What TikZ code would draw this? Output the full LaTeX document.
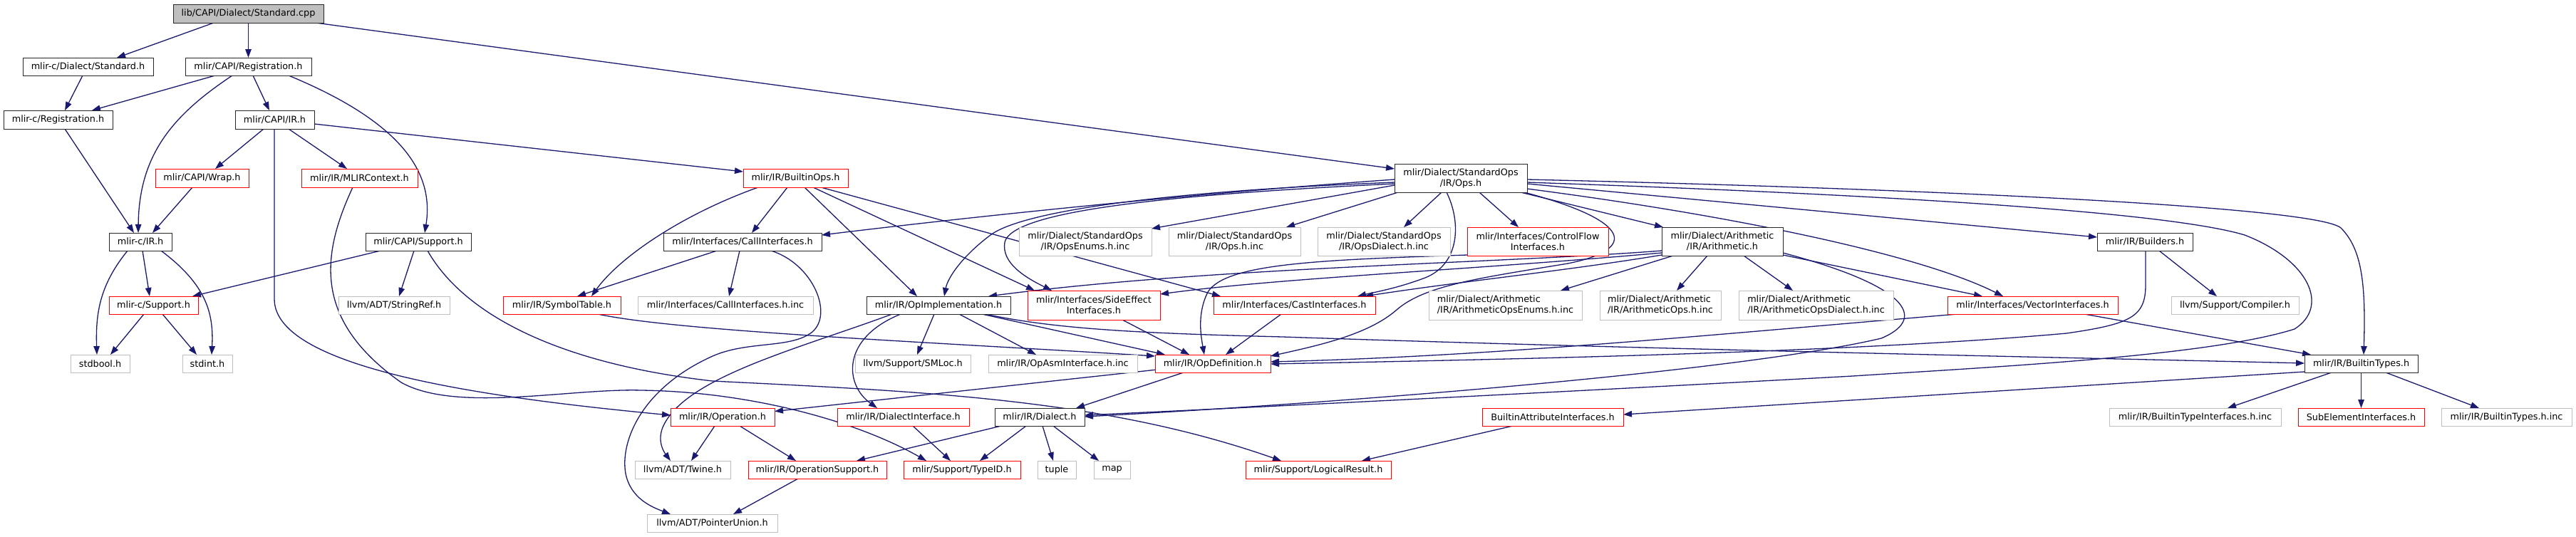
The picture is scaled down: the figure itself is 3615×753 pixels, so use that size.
\documentclass[tikz,border=0pt]{standalone}
\usepackage{fontspec}
\setmainfont{DejaVu Sans}
\usetikzlibrary{arrows.meta,calc}
\definecolor{edgec}{RGB}{25,25,112}
\definecolor{grayb}{RGB}{191,191,191}
\definecolor{redb}{RGB}{255,0,0}
\definecolor{blackb}{RGB}{40,40,40}
\pgfdeclarelayer{bg}
\pgfsetlayers{bg,main}
\tikzset{
 nbase/.style={draw, line width=1pt, inner sep=0pt, outer sep=0pt, font=\fontsize{12.8}{15}\selectfont, text=black, fill=white},
 nb/.style={nbase, draw=blackb},
 nr/.style={nbase, draw=redb},
 ng/.style={nbase, draw=grayb},
 rootn/.style={nbase, draw=blackb, fill=grayb},
 lnk/.style={draw=edgec, line width=1.3pt, -{Triangle[length=12pt,width=8.5pt]}},
}
\newcommand\mkbox[7]{\node[#1, minimum width={(#5-#3)*1pt}, minimum height={(#6-#4)*1pt}] (#2) at ({(#3+#5)/2},{(#4+#6)/2}) {#7};}
\begin{document}
\begin{tikzpicture}[x=1pt,y=-1pt]
\useasboundingbox (0,0) rectangle (3615,753);
% nodes
\mkbox{rootn}{root}{243}{6}{454}{32}{lib/CAPI/Dialect/Standard.cpp}
\mkbox{nb}{cstd}{32}{81}{215}{106}{mlir-c/Dialect/Standard.h}
\mkbox{nb}{capireg}{260}{81}{437}{106}{mlir/CAPI/Registration.h}
\mkbox{nb}{creg}{5}{155}{158}{181}{mlir-c/Registration.h}
\mkbox{nb}{capiir}{330}{155}{441}{181}{mlir/CAPI/IR.h}
\mkbox{nr}{wrap}{218}{237}{349}{263}{mlir/CAPI/Wrap.h}
\mkbox{nr}{mlirctx}{423}{237}{586}{263}{mlir/IR/MLIRContext.h}
\mkbox{nr}{builtinops}{1043}{237}{1190}{263}{mlir/IR/BuiltinOps.h}
\mkbox{nb,align=center}{opsh}{1957}{230}{2143}{270}{mlir/Dialect/StandardOps\\/IR/Ops.h}
\mkbox{nb}{cir}{153}{327}{241}{352}{mlir-c/IR.h}
\mkbox{nb}{capisupport}{513}{327}{661}{352}{mlir/CAPI/Support.h}
\mkbox{nb}{callif}{931}{327}{1153}{352}{mlir/Interfaces/CallInterfaces.h}
\mkbox{ng,align=center}{opsenums}{1430}{319}{1616}{359}{mlir/Dialect/StandardOps\\/IR/OpsEnums.h.inc}
\mkbox{ng,align=center}{opsinc}{1640}{319}{1825}{359}{mlir/Dialect/StandardOps\\/IR/Ops.h.inc}
\mkbox{ng,align=center}{opsdialect}{1849}{319}{2035}{359}{mlir/Dialect/StandardOps\\/IR/OpsDialect.h.inc}
\mkbox{nr,align=center}{cfif}{2059}{319}{2257}{359}{mlir/Interfaces/ControlFlow\\Interfaces.h}
\mkbox{nb,align=center}{arith}{2332}{319}{2502}{359}{mlir/Dialect/Arithmetic\\/IR/Arithmetic.h}
\mkbox{nb}{builders}{2943}{327}{3077}{352}{mlir/IR/Builders.h}
\mkbox{nr}{csupport}{153}{416}{278}{441}{mlir-c/Support.h}
\mkbox{ng}{stringref}{475}{416}{631}{441}{llvm/ADT/StringRef.h}
\mkbox{nr}{symtab}{706}{416}{871}{441}{mlir/IR/SymbolTable.h}
\mkbox{ng}{callifinc}{895}{416}{1141}{441}{mlir/Interfaces/CallInterfaces.h.inc}
\mkbox{nb}{opimpl}{1216}{416}{1418}{441}{mlir/IR/OpImplementation.h}
\mkbox{nr,align=center}{sideeff}{1442}{408}{1628}{449}{mlir/Interfaces/SideEffect\\Interfaces.h}
\mkbox{nr}{castif}{1703}{416}{1930}{441}{mlir/Interfaces/CastInterfaces.h}
\mkbox{ng,align=left}{arithenums}{2005}{408}{2220}{449}{mlir/Dialect/Arithmetic\\/IR/ArithmeticOpsEnums.h.inc}
\mkbox{ng,align=left}{arithops}{2245}{408}{2415}{449}{mlir/Dialect/Arithmetic\\/IR/ArithmeticOps.h.inc}
\mkbox{ng,align=left}{arithdialect}{2440}{408}{2657}{449}{mlir/Dialect/Arithmetic\\/IR/ArithmeticOpsDialect.h.inc}
\mkbox{nr}{vectorif}{2733}{416}{2972}{441}{mlir/Interfaces/VectorInterfaces.h}
\mkbox{ng}{compiler}{3047}{416}{3226}{441}{llvm/Support/Compiler.h}
\mkbox{ng}{stdbool}{99}{498}{182}{523}{stdbool.h}
\mkbox{ng}{stdint}{256}{498}{326}{523}{stdint.h}
\mkbox{ng}{smloc}{1200}{498}{1362}{523}{llvm/Support/SMLoc.h}
\mkbox{ng}{opasminc}{1387}{498}{1596}{523}{mlir/IR/OpAsmInterface.h.inc}
\mkbox{nr}{opdef}{1621}{498}{1783}{523}{mlir/IR/OpDefinition.h}
\mkbox{nb}{builtintypes}{3234}{498}{3393}{523}{mlir/IR/BuiltinTypes.h}
\mkbox{nr}{operation}{941}{573}{1087}{598}{mlir/IR/Operation.h}
\mkbox{nr}{dialectif}{1175}{573}{1360}{598}{mlir/IR/DialectInterface.h}
\mkbox{nb}{dialect}{1396}{573}{1522}{598}{mlir/IR/Dialect.h}
\mkbox{nr}{builtinattrif}{2080}{573}{2278}{598}{BuiltinAttributeInterfaces.h}
\mkbox{ng}{builtintypeifinc}{2960}{573}{3201}{598}{mlir/IR/BuiltinTypeInterfaces.h.inc}
\mkbox{nr}{subelem}{3225}{573}{3402}{598}{SubElementInterfaces.h}
\mkbox{ng}{builtintypesinc}{3426}{573}{3609}{598}{mlir/IR/BuiltinTypes.h.inc}
\mkbox{ng}{twine}{891}{647}{1025}{672}{llvm/ADT/Twine.h}
\mkbox{nr}{opsupport}{1050}{647}{1244}{672}{mlir/IR/OperationSupport.h}
\mkbox{nr}{typeid}{1268}{647}{1432}{672}{mlir/Support/TypeID.h}
\mkbox{ng}{tuple}{1456}{647}{1510}{672}{tuple}
\mkbox{ng}{map}{1535}{647}{1586}{672}{map}
\mkbox{nr}{logicalresult}{1748}{647}{1952}{672}{mlir/Support/LogicalResult.h}
\mkbox{ng}{pointerunion}{908}{722}{1091}{747}{llvm/ADT/PointerUnion.h}
% edges
\begin{pgfonlayer}{bg}
\fill[white] (0,0) rectangle (3615,753);
\draw[lnk] ($(root.north west)+(57,26)$) -- ($(cstd.north west)+(132,0)$);
\draw[lnk] (root.south) -- (capireg.north);
\draw[lnk] ($(root.north west)+(200,26)$) -- ($(opsh.north west)+(0,7)$);
\draw[lnk] ($(cstd.north west)+(84,25)$) -- ($(creg.north west)+(86,0)$);
\draw[lnk] ($(capireg.north west)+(42,25)$) -- ($(creg.north west)+(124,0)$);
\draw[lnk] ($(capireg.north west)+(66,25)$) .. controls (245,160) and (195,215) .. ($(cir.north west)+(41,0)$);
\draw[lnk] ($(capireg.north west)+(95,25)$) -- ($(capiir.north west)+(48,0)$);
\draw[lnk] ($(capireg.north west)+(145,25)$) .. controls (560,170) and (610,240) .. ($(capisupport.north west)+(83,0)$);
\draw[lnk] ($(creg.north west)+(86,26)$) -- ($(cir.north west)+(35,0)$);
\draw[lnk] ($(capiir.north west)+(40,26)$) -- ($(wrap.north west)+(84,0)$);
\draw[lnk] ($(capiir.north west)+(75,26)$) -- ($(mlirctx.north west)+(64,0)$);
\draw[lnk] ($(capiir.north west)+(111,19)$) -- ($(builtinops.north west)+(0,4)$);
\draw[lnk] ($(capiir.north west)+(55,26)$) -- (385,420) .. controls (385,520) and (700,560) .. ($(operation.north west)+(0,10)$);
\draw[lnk] ($(wrap.north west)+(52,26)$) -- ($(cir.north west)+(61,0)$);
\draw[lnk] ($(mlirctx.north west)+(72,26)$) .. controls (450,360) and (440,450) .. (563,537) .. controls (640,580) and (800,545) .. (900,548) .. controls (1050,550) and (1200,590) .. ($(typeid.north west)+(32,0)$);
\draw[lnk] ($(cir.north west)+(26,25)$) .. controls (140,400) and (134,440) .. ($(stdbool.north west)+(37,0)$);
\draw[lnk] ($(cir.north west)+(47,25)$) -- ($(csupport.north west)+(57,0)$);
\draw[lnk] ($(cir.north west)+(73,25)$) .. controls (290,400) and (300,440) .. ($(stdint.north west)+(41,0)$);
\draw[lnk] ($(csupport.north west)+(49,25)$) -- ($(stdbool.north west)+(56,0)$);
\draw[lnk] ($(csupport.north west)+(75,25)$) -- ($(stdint.north west)+(20,0)$);
\draw[lnk] ($(capisupport.north west)+(21,25)$) -- ($(csupport.north west)+(117,0)$);
\draw[lnk] ($(capisupport.north west)+(68,25)$) -- ($(stringref.north west)+(85,0)$);
\draw[lnk] ($(capisupport.north west)+(87,25)$) .. controls (650,440) and (780,510) .. (1000,535) .. controls (1300,550) and (1550,560) .. ($(logicalresult.north west)+(50,0)$);
\draw[lnk] ($(builtinops.north west)+(62,26)$) -- ($(callif.north west)+(124,0)$);
\draw[lnk] ($(builtinops.north west)+(21,26)$) .. controls (960,300) and (870,360) .. ($(symtab.north west)+(124,0)$);
\draw[lnk] ($(builtinops.north west)+(86,26)$) -- ($(opimpl.north west)+(71,0)$);
\draw[lnk] ($(builtinops.north west)+(98,26)$) -- ($(sideeff.north west)+(10,0)$);
\draw[lnk] ($(builtinops.north west)+(109,26)$) -- ($(castif.north west)+(10,0)$);
\draw[lnk] ($(callif.north west)+(75,25)$) -- ($(symtab.north west)+(104,0)$);
\draw[lnk] ($(callif.north west)+(107,25)$) -- ($(callifinc.north west)+(128,0)$);
\draw[lnk] ($(callif.north west)+(151,25)$) .. controls (1140,370) and (1170,440) .. (1140,466) .. controls (1110,490) and (1050,478) .. (1000,500) .. controls (900,545) and (870,620) .. (878,665) .. controls (885,700) and (915,712) .. ($(pointerunion.north west)+(33,0)$);
\draw[lnk] ($(symtab.north west)+(133,25)$) .. controls (950,465) and (1300,480) .. ($(opdef.north west)+(0,2)$);
\draw[lnk] ($(opimpl.north west)+(95,25)$) -- ($(smloc.north west)+(87,0)$);
\draw[lnk] ($(opimpl.north west)+(130,25)$) -- ($(opasminc.north west)+(67,0)$);
\draw[lnk] ($(opimpl.north west)+(162,25)$) -- ($(opdef.north west)+(14,0)$);
\draw[lnk] ($(opimpl.north west)+(167,25)$) .. controls (1480,462) and (1600,468) .. (1800,473) .. controls (2300,490) and (2900,502) .. ($(builtintypes.north west)+(0,12)$);
\draw[lnk] ($(opimpl.north west)+(36,25)$) .. controls (1120,490) and (960,530) .. (930,600) .. controls (922,620) and (932,635) .. ($(twine.north west)+(50,0)$);
\draw[lnk] ($(opimpl.north west)+(48,25)$) .. controls (1180,475) and (1185,540) .. ($(dialectif.north west)+(56,0)$);
\draw[lnk] ($(sideeff.north west)+(133,41)$) -- ($(opdef.north west)+(48,0)$);
\draw[lnk] ($(castif.north west)+(95,25)$) -- ($(opdef.north west)+(99,0)$);
\draw[lnk] (opdef) -- (operation);
\draw[lnk] ($(opdef.north west)+(40,25)$) -- ($(dialect.north west)+(114,0)$);
\draw[lnk] ($(operation.north west)+(62,25)$) -- ($(twine.north west)+(79,0)$);
\draw[lnk] ($(operation.north west)+(97,25)$) -- ($(opsupport.north west)+(67,0)$);
\draw[lnk] ($(dialectif.north west)+(106,25)$) -- ($(typeid.north west)+(66,0)$);
\draw[lnk] ($(dialect.north west)+(9,25)$) -- ($(opsupport.north west)+(152,0)$);
\draw[lnk] ($(dialect.north west)+(44,25)$) -- ($(typeid.north west)+(107,0)$);
\draw[lnk] ($(dialect.north west)+(67,25)$) -- ($(tuple.north west)+(22,0)$);
\draw[lnk] ($(dialect.north west)+(82,25)$) -- ($(map.north west)+(7,0)$);
\draw[lnk] ($(opsupport.north west)+(70,25)$) -- ($(pointerunion.north west)+(121,0)$);
\draw[lnk] ($(builtinattrif.north west)+(43,25)$) -- ($(logicalresult.north west)+(163,0)$);
\draw[lnk] ($(builtintypes.north west)+(0,24)$) -- ($(builtinattrif.north west)+(198,9)$);
\draw[lnk] ($(builtintypes.north west)+(38,25)$) -- ($(builtintypeifinc.north west)+(166,0)$);
\draw[lnk] (builtintypes.south) -- (subelem.north);
\draw[lnk] ($(builtintypes.north west)+(114,25)$) -- ($(builtintypesinc.north west)+(53,0)$);
\draw[lnk] ($(builders.north west)+(68,25)$) -- (3011,400) .. controls (3011,445) and (2990,455) .. (2900,468) .. controls (2600,495) and (2100,505) .. ($(opdef.north west)+(162,13)$);
\draw[lnk] ($(builders.north west)+(87,25)$) -- ($(compiler.north west)+(64,0)$);
\draw[lnk] ($(vectorif.north west)+(14,25)$) .. controls (2400,470) and (2100,500) .. ($(opdef.north west)+(162,10)$);
\draw[lnk] ($(vectorif.north west)+(192,25)$) -- ($(builtintypes.north west)+(9,0)$);
\draw[lnk] ($(opsh.north west)+(0,22)$) .. controls (1700,270) and (1400,300) .. ($(callif.north west)+(222,3)$);
\draw[lnk] ($(opsh.north west)+(0,30)$) -- ($(opsenums.north west)+(186,2)$);
\draw[lnk] ($(opsh.north west)+(5,40)$) -- ($(opsinc.north west)+(165,0)$);
\draw[lnk] ($(opsh.north west)+(66,40)$) -- ($(opsdialect.north west)+(121,0)$);
\draw[lnk] ($(opsh.north west)+(119,40)$) -- ($(cfif.north west)+(72,0)$);
\draw[lnk] ($(opsh.north west)+(177,40)$) -- ($(arith.north west)+(2,0)$);
\draw[lnk] ($(opsh.north west)+(186,28)$) -- ($(builders.north west)+(0,6)$);
\draw[lnk] ($(opsh.north west)+(186,22)$) .. controls (2700,265) and (3250,290) .. (3285,320) .. controls (3315,350) and (3320,400) .. ($(builtintypes.north west)+(83,0)$);
\draw[lnk] ($(opsh.north west)+(186,26)$) .. controls (2700,275) and (3050,300) .. (3150,330) .. controls (3240,365) and (3270,430) .. (3220,462) .. controls (3100,500) and (2800,515) .. (2600,528) .. controls (2200,550) and (1800,570) .. ($(dialect.north west)+(126,10)$);
\draw[lnk] ($(opsh.north west)+(0,26)$) .. controls (1600,270) and (1430,300) .. (1390,330) .. controls (1350,360) and (1330,390) .. ($(opimpl.north west)+(109,0)$);
\draw[lnk] ($(opsh.north west)+(0,28)$) .. controls (1600,275) and (1420,300) .. (1410,340) .. controls (1405,370) and (1440,390) .. ($(sideeff.north west)+(34,0)$);
\draw[lnk] ($(opsh.north west)+(73,40)$) .. controls (2050,310) and (2050,370) .. (2000,390) .. controls (1960,405) and (1930,410) .. ($(castif.north west)+(202,0)$);
\draw[lnk] ($(opsh.north west)+(182,40)$) .. controls (2290,310) and (2300,350) .. (2200,370) .. controls (2080,390) and (2000,400) .. (1960,435) .. controls (1920,470) and (1850,485) .. ($(opdef.north west)+(162,2)$);
\draw[lnk] ($(opsh.north west)+(186,35)$) .. controls (2450,305) and (2700,360) .. ($(vectorif.north west)+(78,0)$);
\draw[lnk] ($(arith.north west)+(16,40)$) -- ($(arithenums.north west)+(185,0)$);
\draw[lnk] ($(arith.north west)+(64,40)$) -- ($(arithops.north west)+(108,0)$);
\draw[lnk] ($(arith.north west)+(115,40)$) -- ($(arithdialect.north west)+(76,0)$);
\draw[lnk] ($(arith.north west)+(170,39)$) -- ($(vectorif.north west)+(49,0)$);
\draw[lnk] ($(arith.north west)+(170,36)$) .. controls (2690,405) and (2700,450) .. (2640,475) .. controls (2450,520) and (1900,565) .. ($(dialect.north west)+(126,12)$);
\draw[lnk] ($(arith.north west)+(0,33)$) .. controls (2100,370) and (1700,375) .. ($(opimpl.north west)+(171,0)$);
\draw[lnk] ($(arith.north west)+(0,36)$) .. controls (2050,380) and (1800,390) .. ($(sideeff.north west)+(186,5)$);
\draw[lnk] ($(arith.north west)+(0,39)$) .. controls (2200,380) and (2050,395) .. ($(castif.north west)+(212,0)$);
\draw[lnk] ($(cfif.north west)+(0,39)$) .. controls (1850,365) and (1720,370) .. (1695,410) .. controls (1680,440) and (1685,470) .. ($(opdef.north west)+(69,0)$);
\end{pgfonlayer}
\end{tikzpicture}
\end{document}
